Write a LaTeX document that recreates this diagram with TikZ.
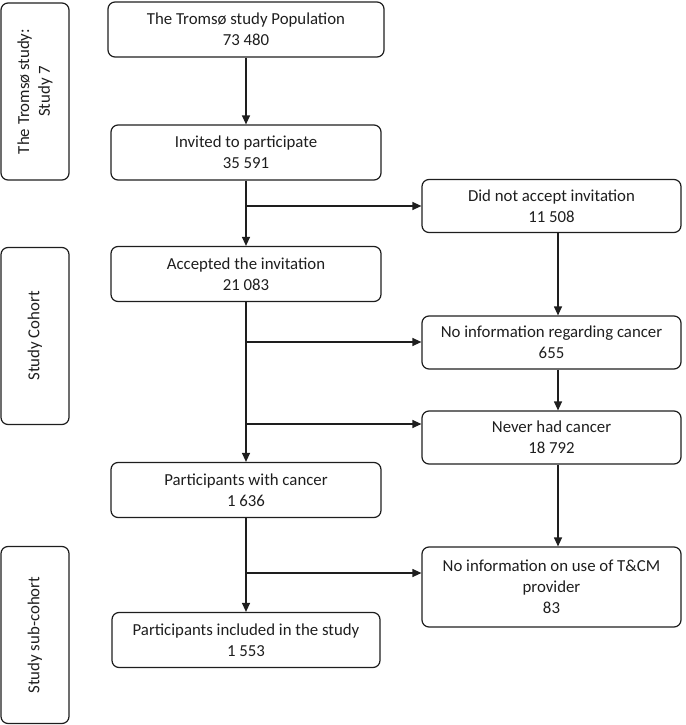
\documentclass[tikz,border=0pt]{standalone}
\usepackage{fontspec}
\setmainfont{Carlito}
\usepackage{tikz}
\usetikzlibrary{arrows.meta, positioning, calc}
\definecolor{ink}{HTML}{1E1E1E}

\begin{document}
\begin{tikzpicture}[
    x=1pt, y=-1pt,
    box/.style={draw=ink, text=ink, rounded corners=7pt, line width=1.2pt, align=center,
        inner sep=0pt, font=\fontsize{16.8}{20.8}\selectfont},
    side/.style={box, rotate=90, minimum width=177, minimum height=68},
    mainbox/.style={box, minimum width=270, minimum height=55},
    sidebox/.style={box, minimum width=259, minimum height=53},
    arrow/.style={-{Triangle[length=9pt,width=8pt]}, draw=ink, line width=1.2pt}
]
    \useasboundingbox (0,0) rectangle (685,725);

    % Phases on the left
    \node[side] (tromso) at (35, 91.5) {The Troms\o{} study:\\Study 7};
    \node[side] (cohort) at (35, 336) {Study Cohort};
    \node[side] (subcohort) at (35, 635) {Study sub-cohort};

    % Main flow
    \node[mainbox, minimum width=276] (population) at (246, 29.5) {The Troms\o{} study Population\\73 480};
    \node[mainbox] (invited) at (246, 152.5) {Invited to participate\\35 591};
    \node[mainbox] (accepted) at (246, 274) {Accepted the invitation\\21 083};
    \node[mainbox] (cancer) at (246, 490) {Participants with cancer\\1 636};
    \node[mainbox, minimum width=268] (included) at (246, 640) {Participants included in the study\\1 553};

    % Exclusions
    \node[sidebox] (declined) at (551.5, 206) {Did not accept invitation\\11 508};
    \node[sidebox] (noinfo) at (551.5, 342.5) {No information regarding cancer\\655};
    \node[sidebox] (never) at (551.5, 437.5) {Never had cancer\\18 792};
    \node[sidebox, minimum height=80] (notcm) at (551.5, 587) {No information on use of T\&CM\\provider\\83};

    % Branch points on the main line
    \coordinate (b1) at (246, 206);
    \coordinate (b2) at (246, 342);
    \coordinate (b3) at (246, 424);
    \coordinate (b4) at (246, 573);

    \draw[arrow] (population) -- (invited);
    \draw[arrow] (invited) -- (accepted);
    \draw[arrow] (accepted) -- (cancer);
    \draw[arrow] (cancer) -- (included);

    \draw[arrow] (b1) -- (b1 -| declined.west);
    \draw[arrow] (b2) -- (b2 -| noinfo.west);
    \draw[arrow] (b3) -- (b3 -| never.west);
    \draw[arrow] (b4) -- (b4 -| notcm.west);

    \draw[arrow] ([xshift=6.5pt]declined.south) -- ([xshift=6.5pt]noinfo.north);
    \draw[arrow] ([xshift=6.5pt]noinfo.south) -- ([xshift=6.5pt]never.north);
    \draw[arrow] ([xshift=6.5pt]never.south) -- ([xshift=6.5pt]notcm.north);
\end{tikzpicture}
\end{document}
